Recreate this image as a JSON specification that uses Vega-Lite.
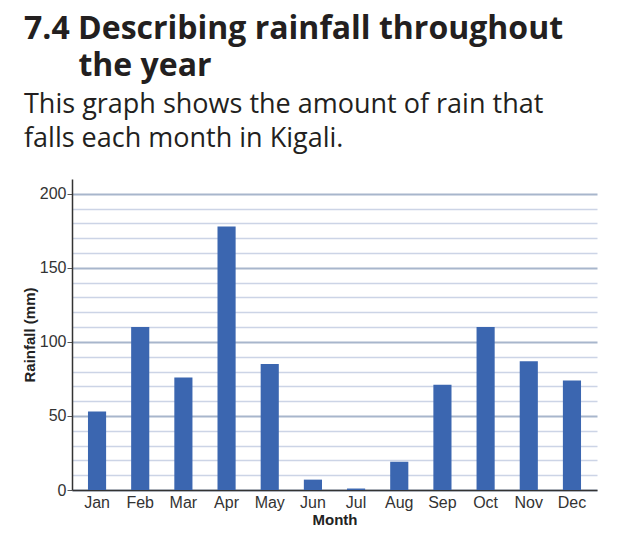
{
  "$schema": "https://vega.github.io/schema/vega-lite/v6.json",
  "autosize": "none",
  "width": 525,
  "height": 311,
  "padding": {"left": 72, "top": 179, "right": 21, "bottom": 43},
  "background": "white",
  "title": {
    "text": ["7.4 Describing rainfall throughout", "\u200b\u2003\u2002\u200a\u200athe year"],
    "subtitle": ["This graph shows the amount of rain that", "falls each month in Kigali."],
    "anchor": "start",
    "frame": "group",
    "dx": -48,
    "offset": 26,
    "font": "Open Sans",
    "fontSize": 32,
    "fontWeight": "bold",
    "lineHeight": 37,
    "color": "#231f20",
    "subtitleFont": "Open Sans",
    "subtitleFontSize": 27,
    "subtitleLineHeight": 34,
    "subtitleColor": "#231f20",
    "subtitlePadding": 9
  },
  "data": {
    "values": [
      {"month": "Jan", "rain": 53},
      {"month": "Feb", "rain": 110},
      {"month": "Mar", "rain": 76},
      {"month": "Apr", "rain": 178},
      {"month": "May", "rain": 85},
      {"month": "Jun", "rain": 7},
      {"month": "Jul", "rain": 1},
      {"month": "Aug", "rain": 19},
      {"month": "Sep", "rain": 71},
      {"month": "Oct", "rain": 110},
      {"month": "Nov", "rain": 87},
      {"month": "Dec", "rain": 74}
    ]
  },
  "mark": {"type": "bar", "color": "#3b66b0"},
  "encoding": {
    "x": {
      "field": "month",
      "type": "nominal",
      "sort": null,
      "scale": {"paddingInner": 0.58, "paddingOuter": 0.37},
      "axis": {
        "title": "Month",
        "labelAngle": 0,
        "ticks": false,
        "domainColor": "#333333",
        "domainWidth": 1.5,
        "labelFont": "Liberation Sans",
        "labelFontSize": 16,
        "labelColor": "#333333",
        "labelPadding": 4,
        "titleFont": "Liberation Sans",
        "titleFontSize": 15,
        "titleFontWeight": "bold",
        "titleColor": "#222222",
        "titlePadding": 2
      }
    },
    "y": {
      "field": "rain",
      "type": "quantitative",
      "scale": {"domain": [0, 210], "nice": false},
      "axis": {
        "title": "Rainfall (mm)",
        "values": [0, 10, 20, 30, 40, 50, 60, 70, 80, 90, 100, 110, 120, 130, 140, 150, 160, 170, 180, 190, 200],
        "labelExpr": "datum.value % 50 === 0 ? datum.label : ''",
        "grid": true,
        "gridColor": {"condition": {"test": "datum.value % 50 === 0", "value": "#a8b6cc"}, "value": "#ccd4e6"},
        "gridWidth": {"condition": {"test": "datum.value % 50 === 0", "value": 2}, "value": 1.5},
        "tickColor": {"condition": {"test": "datum.value % 50 === 0", "value": "#555555"}, "value": "transparent"},
        "tickSize": 5,
        "domainColor": "#333333",
        "domainWidth": 1.5,
        "labelFont": "Liberation Sans",
        "labelFontSize": 16,
        "labelColor": "#333333",
        "labelPadding": 1,
        "titleFont": "Liberation Sans",
        "titleFontSize": 15,
        "titleFontWeight": "bold",
        "titleColor": "#222222",
        "titlePadding": 2
      }
    }
  },
  "config": {"view": {"stroke": null}}
}
